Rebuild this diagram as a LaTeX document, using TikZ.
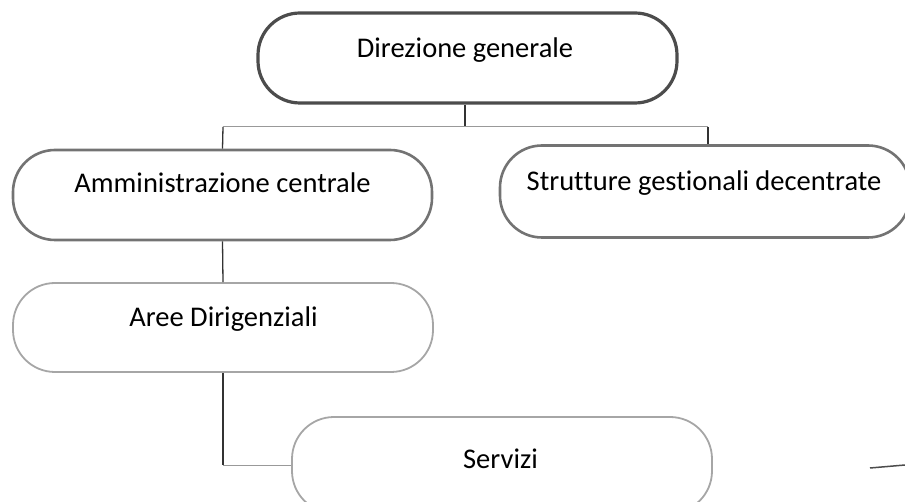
\documentclass[tikz,border=0pt]{standalone}
\usepackage{fontspec}
\setmainfont{Carlito}[RawFeature={-liga;-clig;-dlig;-calt}]
\begin{document}
\begin{tikzpicture}[x=1pt,y=-1pt,
  box/.style={draw, rectangle, rounded corners=42pt, inner sep=0pt},
  boxA/.style={box, draw=black!70, line width=3.2pt},
  boxB/.style={box, draw=black!55, line width=2.6pt},
  boxC/.style={box, draw=black!35, line width=1.8pt},
  lbl/.style={anchor=base, inner sep=0pt, font=\fontsize{28.5}{34}\selectfont},
  conn/.style={draw=black!80, line width=1.3pt},
  connlight/.style={draw=black!40, line width=1pt}]
\useasboundingbox (0,0) rectangle (905,502);
\clip (0,0) rectangle (905,502);
% boxes
\node[boxA, minimum width=419pt, minimum height=90pt] (dg) at (467.5,58) {};
\node[boxB, minimum width=419pt, minimum height=90pt] (ac) at (222.5,195) {};
\node[boxB, minimum width=410pt, minimum height=92pt] (sg) at (705,191.5) {};
\node[boxC, minimum width=420pt, minimum height=89pt] (ad) at (223,327.5) {};
\node[boxC, minimum width=420pt, minimum height=96pt] (sv) at (502,465) {};
% labels
\node[lbl] (dgt) at (465,58) {Direzione generale};
\node[lbl] (act) at (222.5,193) {Amministrazione centrale};
\node[lbl] (sgt) at (704,191) {Strutture gestionali decentrate};
\node[lbl] (adt) at (223.5,327) {Aree Dirigenziali};
\node[lbl] (svt) at (500.5,468) {Servizi};
% connectors
\coordinate (j) at (465,127);
\coordinate (jl) at (223,127);
\coordinate (jr) at (708,127);
\draw[conn] (j |- dg.south) -- (j);
\draw[connlight] (jl) -- (jr);
\draw[conn] (jl) -- (ac.north);
\draw[conn] (jr) -- (jr |- sg.north);
\draw[conn] (ac.south) -- (ad.north);
\draw[conn] (ad.south) -- (ad.south |- sv.west);
\draw[connlight] (ad.south |- sv.west) -- (sv.west);
% scan mark
\coordinate (m1) at (870,468);
\coordinate (m2) at (905,465);
\draw[black!70, line width=1.5pt] (m1) -- (m2);
\end{tikzpicture}
\end{document}
